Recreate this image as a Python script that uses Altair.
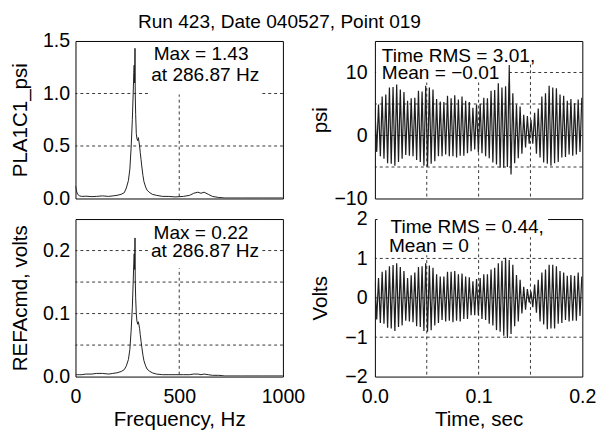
import altair as alt
import pandas as pd

FONT = "Liberation Sans"
INK = "#1e1e1e"

chart_title = "Run 423, Date 040527, Point 019"

# ---------------- spectra ----------------
freq_hz = [0, 5, 10, 20, 30, 50, 80, 100, 130, 160, 180, 200, 220, 235, 245,
           255, 262, 268, 274, 278, 281, 283, 285, 286.87, 288, 290, 293, 296, 300, 303,
           306, 309, 312, 316, 320, 325, 330, 338, 345, 355, 370, 390, 420, 450, 480,
           520, 550, 570, 590, 605, 620, 640, 660, 690, 720, 800, 900, 1000]
psi_amp = [0.12, 0.07, 0.04, 0.025, 0.02, 0.022, 0.018, 0.02, 0.025, 0.02, 0.025, 0.03, 0.04, 0.055, 0.1,
           0.17, 0.28, 0.48, 0.75, 1.0, 1.2, 1.27, 1.1, 1.43, 1.0, 0.8, 0.62, 0.57, 0.55, 0.58,
           0.54, 0.5, 0.44, 0.37, 0.3, 0.22, 0.16, 0.11, 0.08, 0.06, 0.04, 0.03, 0.02, 0.02, 0.015,
           0.02, 0.03, 0.05, 0.06, 0.05, 0.06, 0.04, 0.02, 0.01, 0.005, 0.005, 0.005, 0.005]
volt_amp = [0.003, 0.003, 0.003, 0.003, 0.003, 0.004, 0.004, 0.005, 0.005, 0.004, 0.005, 0.006, 0.008, 0.011, 0.017,
            0.027, 0.043, 0.072, 0.11, 0.15, 0.18, 0.195, 0.17, 0.22, 0.155, 0.125, 0.1, 0.088, 0.083, 0.087,
            0.082, 0.076, 0.067, 0.056, 0.046, 0.034, 0.025, 0.017, 0.012, 0.009, 0.006, 0.004, 0.003, 0.003, 0.003,
            0.003, 0.003, 0.004, 0.004, 0.003, 0.004, 0.003, 0.002, 0.002, 0.001, 0.001, 0.001, 0.001]

# ---------------- time histories ----------------
peak_t = [0.0000, 0.0035, 0.0070, 0.0105, 0.0140, 0.0175, 0.0210, 0.0245, 0.0280, 0.0315,
          0.0350, 0.0385, 0.0420, 0.0455, 0.0490, 0.0525, 0.0560, 0.0595, 0.0630, 0.0665,
          0.0700, 0.0735, 0.0770, 0.0805, 0.0840, 0.0875, 0.0910, 0.0945, 0.0980, 0.1015,
          0.1050, 0.1085, 0.1120, 0.1155, 0.1190, 0.1225, 0.1260, 0.1295, 0.1330, 0.1365,
          0.1400, 0.1435, 0.1470, 0.1505, 0.1540, 0.1575, 0.1610, 0.1645, 0.1680, 0.1715,
          0.1750, 0.1785, 0.1820, 0.1855, 0.1890, 0.1925, 0.1960, 0.1995]
trough_t = [0.00175, 0.00525, 0.00875, 0.01225, 0.01575, 0.01925, 0.02275, 0.02625, 0.02975, 0.03325,
            0.03675, 0.04025, 0.04375, 0.04725, 0.05075, 0.05425, 0.05775, 0.06125, 0.06475, 0.06825,
            0.07175, 0.07525, 0.07875, 0.08225, 0.08575, 0.08925, 0.09275, 0.09625, 0.09975, 0.10325,
            0.10675, 0.11025, 0.11375, 0.11725, 0.12075, 0.12425, 0.12775, 0.13125, 0.13475, 0.13825,
            0.14175, 0.14525, 0.14875, 0.15225, 0.15575, 0.15925, 0.16275, 0.16625, 0.16975, 0.17325,
            0.17675, 0.18025, 0.18375, 0.18725, 0.19075, 0.19425, 0.19775]
psi_peaks = [4.3, 4.9, 6.2, 6.5, 7.6, 7.7, 8.1, 7.3, 6.9, 5.5,
             5.9, 6.0, 7.1, 7.0, 7.9, 7.6, 7.3, 5.8, 5.4, 5.3,
             6.3, 5.9, 6.4, 5.7, 6.2, 5.5, 5.3, 4.4, 4.9, 5.0,
             6.0, 5.9, 7.1, 7.2, 8.3, 7.6, 7.8, 11.2, 6.7, 4.9,
             4.6, 3.3, 3.1, 2.5, 3.6, 4.3, 6.2, 6.7, 7.9, 7.6,
             7.5, 6.5, 6.3, 5.5, 5.8, 5.1, 5.7, 6.0]
psi_troughs = [-2.6, -3.3, -3.7, -4.4, -4.5, -4.8, -4.2, -3.7, -3.1, -3.2,
               -3.3, -3.9, -4.2, -4.8, -4.9, -4.5, -4.1, -3.3, -3.3, -3.0,
               -3.3, -3.3, -3.5, -3.2, -3.2, -2.8, -2.5, -2.2, -2.7, -2.8,
               -3.3, -3.6, -4.3, -4.6, -5.1, -5.1, -5.0, -6.2, -4.4, -3.6,
               -2.9, -1.9, -1.3, -1.3, -2.9, -3.5, -4.3, -4.5, -4.8, -4.4,
               -4.2, -3.5, -3.4, -3.0, -3.2, -3.0, -2.6]
volt_peaks = [0.40, 0.50, 0.66, 0.70, 0.80, 0.83, 0.88, 0.78, 0.68, 0.50,
              0.57, 0.64, 0.78, 0.80, 0.88, 0.82, 0.76, 0.60, 0.54, 0.54,
              0.66, 0.66, 0.68, 0.60, 0.62, 0.54, 0.52, 0.42, 0.48, 0.50,
              0.60, 0.60, 0.72, 0.76, 0.88, 0.94, 1.02, 0.96, 0.84, 0.58,
              0.46, 0.28, 0.22, 0.16, 0.34, 0.46, 0.64, 0.72, 0.84, 0.84,
              0.80, 0.68, 0.64, 0.56, 0.58, 0.56, 0.64, 0.54]
volt_troughs = [-0.55, -0.64, -0.66, -0.76, -0.78, -0.84, -0.74, -0.70, -0.58, -0.60,
                -0.62, -0.72, -0.74, -0.84, -0.86, -0.82, -0.70, -0.64, -0.56, -0.60,
                -0.58, -0.62, -0.58, -0.60, -0.54, -0.54, -0.44, -0.44, -0.44, -0.54,
                -0.56, -0.66, -0.70, -0.82, -0.86, -0.96, -1.02, -0.92, -0.72, -0.60,
                -0.40, -0.30, -0.12, -0.24, -0.38, -0.60, -0.68, -0.80, -0.78, -0.78,
                -0.66, -0.64, -0.56, -0.60, -0.58, -0.58, -0.46]

# ---------------- axes ----------------
freq_domain = [0, 1000]
freq_ticks = [0, 500, 1000]
freq_grid = [500]
psi_spec_domain = [0, 1.5]
psi_spec_ticks = [0, 0.5, 1.0, 1.5]
psi_spec_grid = [0.5, 1.0]
volt_spec_domain = [0, 0.25]
volt_spec_ticks = [0, 0.1, 0.2]
volt_spec_grid = [0.05, 0.1, 0.15, 0.2]
time_domain = [0, 0.2]
time_ticks = [0, 0.1, 0.2]
time_grid = [0.05, 0.1, 0.15]
psi_domain = [-10, 15]
psi_ticks = [-10, 0, 10]
psi_grid = [-5, 0, 5, 10]
volt_domain = [-2, 2]
volt_ticks = [-2, -1, 0, 1, 2]
volt_grid = [-1, 0, 1]

# ---------------- annotations ----------------
tl_text = ["Max = 1.43", "at 286.87 Hz"]
tl_x = [377, 365]
tl_y = [1.323, 1.121]
bl_text = ["Max = 0.22", "at 286.87 Hz"]
bl_x = [376, 364]
bl_y = [0.219, 0.190]
tr_text = ["Time RMS = 3.01,", "Mean = \u22120.01"]
tr_x = [0.0066, 0.0066]
tr_y = [11.7, 8.9]
br_text = ["Time RMS = 0.44,", "Mean = 0"]
br_x = [0.015, 0.0135]
br_y = [1.64, 1.17]

# white text backgrounds (x0, x1, y0, y1)
tl_box = ([350], [895], [0.99], [1.49])
bl_box = ([350], [895], [0.172], [0.2475])
tr_box = ([0.0012, 0.0012], [0.156, 0.1285], [11.3, 8.4], [14.85, 11.3])
br_box = ([0.0025, 0.0025], [0.167, 0.095], [1.54, 1.08], [2.02, 1.54])

W, H = 212, 161


def zigzag(peaks, troughs):
    rows = [{"t": t, "v": v} for t, v in zip(peak_t, peaks)]
    rows += [{"t": t, "v": v} for t, v in zip(trough_t, troughs)]
    return pd.DataFrame(rows).sort_values("t")


def panel(df, xcol, ycol, xdom, ydom, xaxis, yaxis, xgrid, ygrid, texts, xs_txt, ys_txt, box, sw):
    xs = alt.Scale(domain=xdom, nice=False, zero=False)
    ys = alt.Scale(domain=ydom, nice=False, zero=False)
    if xaxis is None:
        xenc = alt.X(f"{xcol}:Q", scale=xs, axis=None)
    else:
        xenc = alt.X(f"{xcol}:Q", scale=xs, axis=xaxis)
    line = alt.Chart(df).mark_line(color=INK, strokeWidth=sw, clip=True).encode(
        x=xenc,
        y=alt.Y(f"{ycol}:Q", scale=ys, axis=yaxis),
    )
    vg = alt.Chart(pd.DataFrame({"g": xgrid})).mark_rule(
        color=INK, strokeWidth=0.9, strokeDash=[3, 3]
    ).encode(x=alt.X("g:Q", scale=xs))
    hg = alt.Chart(pd.DataFrame({"g": ygrid})).mark_rule(
        color=INK, strokeWidth=0.9, strokeDash=[3, 3]
    ).encode(y=alt.Y("g:Q", scale=ys))
    bdf = pd.DataFrame({"x0": box[0], "x1": box[1], "y0": box[2], "y1": box[3]})
    boxes = alt.Chart(bdf).mark_rect(color="white").encode(
        x=alt.X("x0:Q", scale=xs), x2="x1:Q",
        y=alt.Y("y0:Q", scale=ys), y2="y1:Q",
    )
    tdf = pd.DataFrame({"label": texts, "x": xs_txt, "y": ys_txt})
    txt = alt.Chart(tdf).mark_text(
        align="left", baseline="alphabetic", font=FONT, fontSize=19.5, color="black"
    ).encode(
        x=alt.X("x:Q", scale=xs),
        y=alt.Y("y:Q", scale=ys),
        text="label:N",
    )
    return alt.layer(line, vg, hg, boxes, txt).properties(width=W, height=H)


def yax(values, fmt, title, lp, tp, ext):
    return alt.Axis(values=values, format=fmt, title=title, labelPadding=lp, titlePadding=tp,
                    minExtent=ext, maxExtent=ext,
                    labelFont=FONT, titleFont=FONT, labelFontSize=20, titleFontSize=21,
                    titleFontWeight="normal", labelColor="black", titleColor="black",
                    ticks=False, domain=False, grid=False)


def xax(values, fmt, title):
    return alt.Axis(values=values, format=fmt, title=title, labelPadding=10,
                    titlePadding=3, labelFlush=False,
                    labelFont=FONT, titleFont=FONT, labelFontSize=20, titleFontSize=21,
                    titleFontWeight="normal", labelColor="black", titleColor="black",
                    ticks=False, domain=False, grid=False)


spec_psi = pd.DataFrame({"f": freq_hz, "a": psi_amp})
spec_volt = pd.DataFrame({"f": freq_hz, "a": volt_amp})

tl = panel(spec_psi, "f", "a", freq_domain, psi_spec_domain, None,
           yax(psi_spec_ticks, ".1f", "PLA1C1_psi", 6, 12, 34),
           freq_grid, psi_spec_grid, tl_text, tl_x, tl_y, tl_box, 1)
bl = panel(spec_volt, "f", "a", freq_domain, volt_spec_domain,
           xax(freq_ticks, "d", "Frequency, Hz"),
           yax(volt_spec_ticks, ".1f", "REFAcmd, volts", 6, 12, 34),
           freq_grid, volt_spec_grid, bl_text, bl_x, bl_y, bl_box, 1)
tr = panel(zigzag(psi_peaks, psi_troughs), "t", "v", time_domain, psi_domain, None,
           yax(psi_ticks, "d", "psi", 8, 3, 42),
           time_grid, psi_grid, tr_text, tr_x, tr_y, tr_box, 1.25)
br = panel(zigzag(volt_peaks, volt_troughs), "t", "v", time_domain, volt_domain,
           xax(time_ticks, ".1f", "Time, sec"),
           yax(volt_ticks, "d", "Volts", 8, 3, 42),
           time_grid, volt_grid, br_text, br_x, br_y, br_box, 1.25)

chart = alt.concat(
    tl, tr, bl, br, columns=2, spacing={"row": 21, "column": 94}, bounds="flush"
).properties(
    title=alt.TitleParams(chart_title, font=FONT, fontSize=19.5, fontWeight="normal",
                          color="black", anchor="middle", offset=-2, dx=-24),
    padding={"left": 1, "top": 0, "right": 0, "bottom": 0},
).configure(
    font=FONT, background="white"
).configure_view(
    stroke="black", strokeWidth=1
)

chart.save("out.html", embed_options={"renderer": "svg", "actions": False})
